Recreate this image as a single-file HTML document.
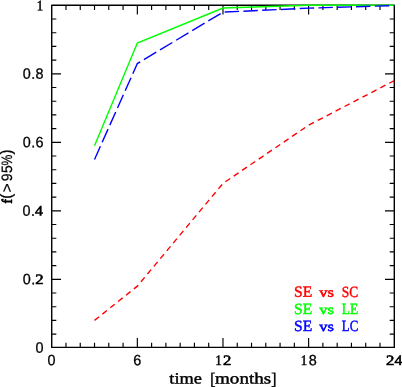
<!DOCTYPE html>
<html><head><meta charset="utf-8"><title>f(&gt;95%) vs time</title><style>
html,body{margin:0;padding:0;background:#fff;}
svg{display:block;will-change:transform;}
.sf{font-family:"Liberation Serif",serif;}
.ss{font-family:"Liberation Sans",sans-serif;}
</style></head><body>
<svg width="402" height="387" viewBox="0 0 402 387">
<rect width="402" height="387" fill="#fff"/>
<rect x="51.72" y="5.3" width="342.58" height="342.10" fill="none" stroke="#000" stroke-width="1.4" stroke-linejoin="round"/>
<path d="M65.97 347.4 V342.80 M65.97 5.3 V9.90 M80.25 347.4 V342.80 M80.25 5.3 V9.90 M94.52 347.4 V342.80 M94.52 5.3 V9.90 M108.79 347.4 V342.80 M108.79 5.3 V9.90 M123.07 347.4 V342.80 M123.07 5.3 V9.90 M137.34 347.4 V338.10 M137.34 5.3 V14.60 M151.61 347.4 V342.80 M151.61 5.3 V9.90 M165.89 347.4 V342.80 M165.89 5.3 V9.90 M180.16 347.4 V342.80 M180.16 5.3 V9.90 M194.43 347.4 V342.80 M194.43 5.3 V9.90 M208.71 347.4 V342.80 M208.71 5.3 V9.90 M222.98 347.4 V338.10 M222.98 5.3 V14.60 M237.25 347.4 V342.80 M237.25 5.3 V9.90 M251.53 347.4 V342.80 M251.53 5.3 V9.90 M265.80 347.4 V342.80 M265.80 5.3 V9.90 M280.07 347.4 V342.80 M280.07 5.3 V9.90 M294.35 347.4 V342.80 M294.35 5.3 V9.90 M308.62 347.4 V338.10 M308.62 5.3 V14.60 M322.89 347.4 V342.80 M322.89 5.3 V9.90 M337.17 347.4 V342.80 M337.17 5.3 V9.90 M351.44 347.4 V342.80 M351.44 5.3 V9.90 M365.71 347.4 V342.80 M365.71 5.3 V9.90 M379.99 347.4 V342.80 M379.99 5.3 V9.90 M51.72 334.10 H56.32 M394.3 334.10 H389.70 M51.72 320.40 H56.32 M394.3 320.40 H389.70 M51.72 306.70 H56.32 M394.3 306.70 H389.70 M51.72 293.00 H56.32 M394.3 293.00 H389.70 M51.72 279.30 H61.02 M394.3 279.30 H385.00 M51.72 265.60 H56.32 M394.3 265.60 H389.70 M51.72 251.90 H56.32 M394.3 251.90 H389.70 M51.72 238.20 H56.32 M394.3 238.20 H389.70 M51.72 224.50 H56.32 M394.3 224.50 H389.70 M51.72 210.80 H61.02 M394.3 210.80 H385.00 M51.72 197.10 H56.32 M394.3 197.10 H389.70 M51.72 183.40 H56.32 M394.3 183.40 H389.70 M51.72 169.70 H56.32 M394.3 169.70 H389.70 M51.72 156.00 H56.32 M394.3 156.00 H389.70 M51.72 142.30 H61.02 M394.3 142.30 H385.00 M51.72 128.60 H56.32 M394.3 128.60 H389.70 M51.72 114.90 H56.32 M394.3 114.90 H389.70 M51.72 101.20 H56.32 M394.3 101.20 H389.70 M51.72 87.50 H56.32 M394.3 87.50 H389.70 M51.72 73.80 H61.02 M394.3 73.80 H385.00 M51.72 60.10 H56.32 M394.3 60.10 H389.70 M51.72 46.40 H56.32 M394.3 46.40 H389.70 M51.72 32.70 H56.32 M394.3 32.70 H389.70 M51.72 19.00 H56.32 M394.3 19.00 H389.70" stroke="#000" stroke-width="1.15" fill="none"/>
<polyline points="94.52,145.73 137.34,42.98 222.98,8.04 308.62,5.30 394.26,5.30" fill="none" stroke="#00ff00" stroke-width="1.4"/>
<polyline points="94.52,159.42 137.34,63.53 222.98,12.15 308.62,8.14 394.26,5.54" fill="none" stroke="#0000ff" stroke-width="1.4" stroke-dasharray="14.4 4.38"/>
<polyline points="94.52,320.40 137.34,286.15 222.98,183.40 308.62,125.18 394.26,80.65" fill="none" stroke="#ff0000" stroke-width="1.4" stroke-dasharray="5.8 4.28"/>
<g>
<text class="ss" font-size="15.0" fill="#000" stroke="#000" stroke-width="0.3" transform="translate(47.60,365.15) rotate(0.03) scale(0.96,1)">0</text>
<text class="ss" font-size="15.0" fill="#000" stroke="#000" stroke-width="0.3" transform="translate(133.25,365.15) rotate(0.03) scale(0.96,1)">6</text>
<text class="sf" font-size="14.3" fill="#000" stroke="#000" stroke-width="0.55" transform="translate(215.31,365.00) rotate(0.03) scale(0.9,1)">1</text><text class="sf" font-size="14.3" fill="#000" stroke="#000" stroke-width="0.6" transform="translate(223.05,365.00) rotate(0.03) scale(1.17,1)">2</text>
<text class="sf" font-size="14.3" fill="#000" stroke="#000" stroke-width="0.55" transform="translate(300.68,365.00) rotate(0.03) scale(0.9,1)">1</text><text class="ss" font-size="15.0" fill="#000" stroke="#000" stroke-width="0.3" transform="translate(308.72,365.15) rotate(0.03) scale(0.96,1)">8</text>
<text class="sf" font-size="14.3" fill="#000" stroke="#000" stroke-width="0.6" transform="translate(386.05,365.00) rotate(0.03) scale(1.17,1)">2</text><text class="sf" font-size="14.3" fill="#000" stroke="#000" stroke-width="0.6" transform="translate(394.57,365.00) rotate(0.03) scale(1.1,1)">4</text>
<text class="ss" font-size="15.0" fill="#000" stroke="#000" stroke-width="0.3" transform="translate(35.44,352.80) rotate(0.03) scale(0.96,1)">0</text>
<text class="ss" font-size="15.0" fill="#000" stroke="#000" stroke-width="0.3" transform="translate(22.71,284.27) rotate(0.03) scale(0.96,1)">0</text><text class="ss" font-size="15.0" fill="#000" stroke="#000" stroke-width="0.3" transform="translate(31.22,284.27) rotate(0.03) scale(0.96,1)">.</text><text class="sf" font-size="14.3" fill="#000" stroke="#000" stroke-width="0.6" transform="translate(35.17,284.12) rotate(0.03) scale(1.17,1)">2</text>
<text class="ss" font-size="15.0" fill="#000" stroke="#000" stroke-width="0.3" transform="translate(22.56,215.74) rotate(0.03) scale(0.96,1)">0</text><text class="ss" font-size="15.0" fill="#000" stroke="#000" stroke-width="0.3" transform="translate(31.07,215.74) rotate(0.03) scale(0.96,1)">.</text><text class="sf" font-size="14.3" fill="#000" stroke="#000" stroke-width="0.6" transform="translate(35.02,215.59) rotate(0.03) scale(1.1,1)">4</text>
<text class="ss" font-size="15.0" fill="#000" stroke="#000" stroke-width="0.3" transform="translate(22.68,147.21) rotate(0.03) scale(0.96,1)">0</text><text class="ss" font-size="15.0" fill="#000" stroke="#000" stroke-width="0.3" transform="translate(31.19,147.21) rotate(0.03) scale(0.96,1)">.</text><text class="ss" font-size="15.0" fill="#000" stroke="#000" stroke-width="0.3" transform="translate(35.44,147.21) rotate(0.03) scale(0.96,1)">6</text>
<text class="ss" font-size="15.0" fill="#000" stroke="#000" stroke-width="0.3" transform="translate(22.68,78.68) rotate(0.03) scale(0.96,1)">0</text><text class="ss" font-size="15.0" fill="#000" stroke="#000" stroke-width="0.3" transform="translate(31.19,78.68) rotate(0.03) scale(0.96,1)">.</text><text class="ss" font-size="15.0" fill="#000" stroke="#000" stroke-width="0.3" transform="translate(35.44,78.68) rotate(0.03) scale(0.96,1)">8</text>
<text class="sf" font-size="14.3" fill="#000" stroke="#000" stroke-width="0.55" transform="translate(36.76,10.25) rotate(0.03) scale(0.9,1)">1</text>
</g>
<g>
<text class="sf" font-size="15.7" fill="#000" stroke="#000" stroke-width="0.4" transform="translate(169.30,383.40) rotate(0.03) scale(1.1678476496170462,1)">time</text><text class="sf" font-size="16.8" fill="#000" stroke="#000" stroke-width="0.3" transform="translate(210.00,384.40) rotate(0.03) scale(1.0010010010010009,1)">[</text><text class="sf" font-size="15.7" fill="#000" stroke="#000" stroke-width="0.4" transform="translate(215.00,383.40) rotate(0.03) scale(1.2154899267894412,1)">months</text><text class="sf" font-size="16.8" fill="#000" stroke="#000" stroke-width="0.3" transform="translate(271.00,384.40) rotate(0.03) scale(1.0010010010010009,1)">]</text>
</g>
<g transform="translate(11.9,204.2) rotate(-89.97)">
<text class="sf" font-size="14.3" fill="#000" stroke="#000" stroke-width="0.95" stroke-linejoin="round" transform="translate(0.6,-0.2) scale(0.9240009240009239,1)">f</text>
<text class="ss" font-size="16" fill="#000" stroke="#000" stroke-width="0.35" transform="translate(5.4,-0.5) scale(0.95,1)">(</text>
<text class="ss" font-size="15" fill="#000" stroke="#000" stroke-width="0.25" transform="translate(11.9,0) scale(1.02,1)">&gt;</text>
<text class="ss" font-size="15" fill="#000" stroke="#000" stroke-width="0.25" transform="translate(23.0,0) scale(0.93,1)">9</text>
<text class="ss" font-size="15" fill="#000" stroke="#000" stroke-width="0.25" transform="translate(31.3,0) scale(0.93,1)">5</text>
<text class="ss" font-size="15" fill="#000" stroke="#000" stroke-width="0.25" transform="translate(38.8,0) scale(0.82,1)">%</text>
<text class="ss" font-size="16" fill="#000" stroke="#000" stroke-width="0.35" transform="translate(49.8,-0.5) scale(0.95,1)">)</text>
</g>
<g>
<text class="sf" font-size="15.6" fill="#ff0000" stroke="#ff0000" stroke-width="0.45" transform="translate(294.00,296.70) rotate(0.03) scale(0.9997143673236217,1)">SE</text><text class="sf" font-size="13.6" fill="#ff0000" stroke="#ff0000" stroke-width="0.55" transform="translate(319.30,296.70) rotate(0.03) scale(1.2075696420300404,1)">vs</text><text class="sf" font-size="15.6" fill="#ff0000" stroke="#ff0000" stroke-width="0.45" transform="translate(341.80,296.70) rotate(0.03) scale(0.8595928465102626,1)">SC</text>
<text class="sf" font-size="15.6" fill="#00ff00" stroke="#00ff00" stroke-width="0.45" transform="translate(294.00,313.90) rotate(0.03) scale(0.9997143673236217,1)">SE</text><text class="sf" font-size="13.6" fill="#00ff00" stroke="#00ff00" stroke-width="0.55" transform="translate(319.30,313.90) rotate(0.03) scale(1.2075696420300404,1)">vs</text><text class="sf" font-size="15.6" fill="#00ff00" stroke="#00ff00" stroke-width="0.45" transform="translate(341.80,313.90) rotate(0.03) scale(0.8602962776448865,1)">LE</text>
<text class="sf" font-size="15.6" fill="#0000ff" stroke="#0000ff" stroke-width="0.45" transform="translate(294.00,330.90) rotate(0.03) scale(0.9997143673236217,1)">SE</text><text class="sf" font-size="13.6" fill="#0000ff" stroke="#0000ff" stroke-width="0.55" transform="translate(319.30,330.90) rotate(0.03) scale(1.2075696420300404,1)">vs</text><text class="sf" font-size="15.6" fill="#0000ff" stroke="#0000ff" stroke-width="0.45" transform="translate(341.80,330.90) rotate(0.03) scale(0.8225994141487097,1)">LC</text>
</g>
</svg>
</body></html>
